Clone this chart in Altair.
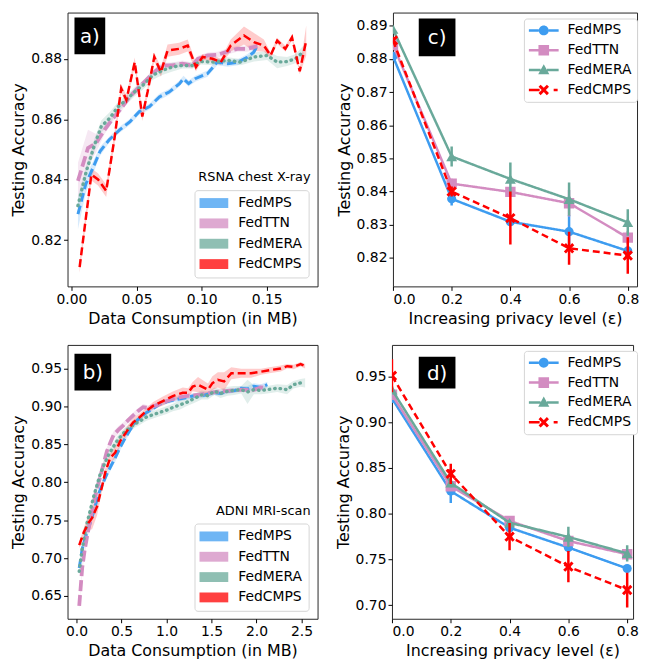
import altair as alt
import pandas as pd

SERIES = ["FedMPS", "FedTTN", "FedMERA", "FedCMPS"]
COLORS = ["#3d9cf0", "#d38cc1", "#69a99a", "#ff0000"]

# ---------------- panel a : RSNA chest X-ray ----------------
a_mps_x = [0.005, 0.011, 0.0165, 0.022, 0.029, 0.037, 0.045, 0.052, 0.060, 0.0675, 0.075, 0.083, 0.086, 0.090, 0.095, 0.1045, 0.112, 0.120, 0.128, 0.135, 0.140, 0.143]
a_mps_y = [0.8286, 0.8385, 0.8439, 0.8494, 0.8532, 0.8565, 0.8592, 0.8625, 0.8642, 0.8674, 0.869, 0.8718, 0.8734, 0.8718, 0.8734, 0.8751, 0.8789, 0.8784, 0.8789, 0.8805, 0.8822, 0.8845]
a_mps_e = [0.005, 0.003, 0.002, 0.0015, 0.001, 0.001, 0.001, 0.001, 0.001, 0.001, 0.001, 0.001, 0.001, 0.001, 0.001, 0.001, 0.001, 0.001, 0.001, 0.001, 0.001, 0.001]

a_ttn_x = [0.005, 0.0127, 0.019, 0.0254, 0.032, 0.0382, 0.0446, 0.051, 0.0573, 0.0636, 0.070, 0.0776, 0.0852, 0.0929, 0.097, 0.1045, 0.1122, 0.1198, 0.1274, 0.135, 0.1427]
a_ttn_y = [0.8396, 0.8505, 0.8521, 0.8565, 0.8603, 0.8636, 0.8674, 0.8702, 0.8729, 0.8756, 0.8778, 0.8778, 0.8784, 0.8778, 0.88, 0.8811, 0.8813, 0.8824, 0.8833, 0.8833, 0.8842]
a_ttn_e = [0.006, 0.006, 0.003, 0.0015, 0.001, 0.001, 0.001, 0.001, 0.001, 0.001, 0.001, 0.001, 0.001, 0.001, 0.001, 0.001, 0.001, 0.001, 0.001, 0.001, 0.001]

a_mera_x = [0.005, 0.0114, 0.0178, 0.0229, 0.0293, 0.0359, 0.0422, 0.0486, 0.055, 0.0626, 0.0702, 0.0776, 0.0852, 0.0929, 0.0995, 0.1096, 0.1198, 0.130, 0.1402, 0.1503, 0.158, 0.1656, 0.172, 0.1783]
a_mera_y = [0.8314, 0.8428, 0.8516, 0.8576, 0.8603, 0.8642, 0.8664, 0.8691, 0.8713, 0.8746, 0.8762, 0.8773, 0.8778, 0.8778, 0.8791, 0.8789, 0.8795, 0.8789, 0.8806, 0.8811, 0.8789, 0.8791, 0.88, 0.8824]
a_mera_e = [0.003, 0.002, 0.002, 0.002, 0.002, 0.0015, 0.0015, 0.0015, 0.0015, 0.0015, 0.0015, 0.0015, 0.001, 0.001, 0.001, 0.001, 0.001, 0.001, 0.0015, 0.0015, 0.002, 0.0015, 0.0015, 0.002]

a_cmps_x = [0.0063, 0.0153, 0.0204, 0.0267, 0.0331, 0.0382, 0.0422, 0.0486, 0.0544, 0.0585, 0.0636, 0.0687, 0.0738, 0.0827, 0.0893, 0.0956, 0.1007, 0.1084, 0.1147, 0.1223, 0.1325, 0.1402, 0.1478, 0.1529, 0.158, 0.1643, 0.1694, 0.1753, 0.1803]
a_cmps_y = [0.8111, 0.8417, 0.8401, 0.8363, 0.8538, 0.8702, 0.8664, 0.8789, 0.8609, 0.8691, 0.8806, 0.8756, 0.8827, 0.8833, 0.8844, 0.8773, 0.8806, 0.88, 0.8789, 0.8844, 0.8877, 0.8855, 0.8844, 0.8811, 0.886, 0.8833, 0.8871, 0.8759, 0.886]
a_cmps_e = [0.002, 0.002, 0.002, 0.002, 0.002, 0.0015, 0.0015, 0.0015, 0.0015, 0.0015, 0.0015, 0.0015, 0.002, 0.002, 0.002, 0.0015, 0.001, 0.001, 0.001, 0.002, 0.003, 0.003, 0.002, 0.001, 0.001, 0.001, 0.001, 0.001, 0.005]

# ---------------- panel b : ADNI MRI-scan ----------------
b_mps_x = [0.03, 0.063, 0.1, 0.154, 0.2, 0.246, 0.29, 0.338, 0.385, 0.43, 0.485, 0.54, 0.595, 0.65, 0.715, 0.78, 0.85, 0.924, 1.0, 1.108, 1.2, 1.29, 1.39, 1.46, 1.53, 1.6, 1.68, 1.76, 1.83, 1.9, 1.97, 2.05, 2.12]
b_mps_y = [0.687, 0.712, 0.728, 0.747, 0.765, 0.785, 0.798, 0.811, 0.822, 0.832, 0.846, 0.858, 0.869, 0.879, 0.886, 0.892, 0.897, 0.903, 0.906, 0.909, 0.911, 0.9136, 0.9136, 0.916, 0.918, 0.917, 0.92, 0.921, 0.924, 0.923, 0.9265, 0.925, 0.9286]
b_mps_e = [0.006, 0.006, 0.006, 0.006, 0.006, 0.006, 0.005, 0.005, 0.005, 0.005, 0.004, 0.004, 0.004, 0.004, 0.003, 0.003, 0.003, 0.003, 0.003, 0.003, 0.003, 0.003, 0.003, 0.003, 0.003, 0.003, 0.003, 0.003, 0.003, 0.004, 0.004, 0.004, 0.004]

b_ttn_x = [0.03, 0.063, 0.09, 0.118, 0.155, 0.19, 0.225, 0.264, 0.3, 0.338, 0.375, 0.411, 0.465, 0.52, 0.575, 0.63, 0.685, 0.74, 0.8, 0.88, 0.96, 1.05, 1.15, 1.25, 1.35, 1.45, 1.55, 1.65, 1.75, 1.85, 1.95, 2.05, 2.1]
b_ttn_y = [0.637, 0.687, 0.71, 0.729, 0.751, 0.772, 0.79, 0.807, 0.824, 0.841, 0.852, 0.862, 0.869, 0.875, 0.882, 0.888, 0.894, 0.899, 0.898, 0.901, 0.905, 0.909, 0.912, 0.914, 0.915, 0.917, 0.919, 0.92, 0.921, 0.922, 0.921, 0.925, 0.924]
b_ttn_e = [0.004, 0.005, 0.006, 0.006, 0.006, 0.006, 0.006, 0.005, 0.005, 0.005, 0.005, 0.005, 0.005, 0.004, 0.004, 0.004, 0.004, 0.004, 0.003, 0.003, 0.003, 0.003, 0.003, 0.003, 0.003, 0.003, 0.003, 0.003, 0.003, 0.003, 0.003, 0.004, 0.004]

b_mera_x = [0.03, 0.063, 0.09, 0.118, 0.155, 0.19, 0.227, 0.264, 0.31, 0.356, 0.4, 0.448, 0.495, 0.54, 0.595, 0.65, 0.71, 0.777, 0.85, 0.924, 1.0, 1.07, 1.15, 1.22, 1.3, 1.39, 1.46, 1.53, 1.6, 1.68, 1.75, 1.83, 1.9, 1.97, 2.05, 2.12, 2.23, 2.34, 2.41, 2.49, 2.54]
b_mera_y = [0.6825, 0.712, 0.73, 0.747, 0.764, 0.781, 0.796, 0.811, 0.824, 0.836, 0.845, 0.854, 0.861, 0.867, 0.872, 0.877, 0.881, 0.886, 0.889, 0.892, 0.895, 0.8986, 0.902, 0.905, 0.91, 0.915, 0.914, 0.92, 0.917, 0.92, 0.921, 0.922, 0.919, 0.922, 0.921, 0.922, 0.924, 0.922, 0.9286, 0.931, 0.931]
b_mera_e = [0.005, 0.005, 0.006, 0.006, 0.006, 0.006, 0.006, 0.006, 0.006, 0.006, 0.006, 0.006, 0.006, 0.005, 0.005, 0.005, 0.005, 0.005, 0.005, 0.005, 0.005, 0.005, 0.006, 0.005, 0.006, 0.006, 0.005, 0.005, 0.006, 0.006, 0.006, 0.005, 0.016, 0.006, 0.005, 0.005, 0.005, 0.006, 0.005, 0.005, 0.006]

b_cmps_x = [0.03, 0.081, 0.136, 0.173, 0.228, 0.283, 0.319, 0.374, 0.43, 0.484, 0.558, 0.63, 0.704, 0.777, 0.851, 0.96, 1.07, 1.18, 1.24, 1.29, 1.35, 1.46, 1.51, 1.57, 1.64, 1.72, 1.83, 1.94, 2.05, 2.16, 2.27, 2.34, 2.41, 2.49, 2.54]
b_cmps_y = [0.717, 0.734, 0.747, 0.753, 0.768, 0.794, 0.813, 0.832, 0.839, 0.854, 0.867, 0.879, 0.886, 0.894, 0.9008, 0.907, 0.9136, 0.918, 0.918, 0.926, 0.9286, 0.922, 0.9307, 0.935, 0.933, 0.9436, 0.9436, 0.9436, 0.9457, 0.948, 0.95, 0.953, 0.952, 0.9556, 0.953]
b_cmps_e = [0.004, 0.006, 0.01, 0.015, 0.012, 0.006, 0.005, 0.006, 0.008, 0.007, 0.006, 0.006, 0.005, 0.004, 0.005, 0.006, 0.006, 0.007, 0.006, 0.006, 0.01, 0.008, 0.009, 0.01, 0.012, 0.008, 0.006, 0.006, 0.004, 0.004, 0.004, 0.003, 0.003, 0.003, 0.003]

# ---------------- panels c, d : privacy level ----------------
EPS = [0.0, 0.2, 0.4, 0.6, 0.8]
c_mps = [0.8808, 0.8378, 0.8309, 0.8279, 0.8221]
c_ttn = [0.8843, 0.8424, 0.8399, 0.8365, 0.8261]
c_mera = [0.889, 0.8506, 0.8438, 0.8377, 0.8307]
c_cmps = [0.8856, 0.84, 0.832, 0.8229, 0.8207]
c_mps_e = [0.001, 0.002, 0.001, 0.005, 0.0012]
c_ttn_e = [0.001, 0.0015, 0.0015, 0.004, 0.002]
c_mera_e = [0.001, 0.003, 0.005, 0.005, 0.004]
c_cmps_e = [0.001, 0.0015, 0.008, 0.005, 0.0055]

d_mps = [0.926, 0.8246, 0.7846, 0.7629, 0.74]
d_ttn = [0.93, 0.83, 0.792, 0.77, 0.7556]
d_mera = [0.9355, 0.8337, 0.79, 0.7745, 0.7565]
d_cmps = [0.9507, 0.8435, 0.7748, 0.742, 0.7164]
d_mps_e = [0.002, 0.013, 0.003, 0.005, 0.004]
d_ttn_e = [0.003, 0.004, 0.004, 0.004, 0.004]
d_mera_e = [0.004, 0.005, 0.003, 0.011, 0.009]
d_cmps_e = [0.018, 0.011, 0.015, 0.017, 0.019]

FONT = "DejaVu Sans"


def make_df(xs, ys, es):
    frames = []
    for s, x, y, e in zip(SERIES, xs, ys, es):
        frames.append(pd.DataFrame({
            "series": s, "x": x, "y": y,
            "lo": [v - d for v, d in zip(y, e)],
            "hi": [v + d for v, d in zip(y, e)],
        }))
    return pd.concat(frames, ignore_index=True)


def color_enc(legend=None):
    if legend is None:
        return alt.Color("series:N", scale=alt.Scale(domain=SERIES, range=COLORS), legend=None)
    return alt.Color("series:N", scale=alt.Scale(domain=SERIES, range=COLORS), legend=legend)


def tag_layers(text, box):
    lab = pd.DataFrame({"t": [text]})
    x0, x1, y0, y1 = box
    rect = alt.Chart(lab).mark_rect(color="black").encode(
        x=alt.value(x0), x2=alt.value(x1), y=alt.value(y0), y2=alt.value(y1))
    txt = alt.Chart(lab).mark_text(color="white", font=FONT, fontSize=20,
                                   align="center", baseline="middle").encode(
        x=alt.value((x0 + x1) / 2), y=alt.value((y0 + y1) / 2 + 1), text="t:N")
    return [rect, txt]


CURVE_STYLE = {
    "FedMPS": dict(strokeDash=[9, 4], strokeWidth=3.0, strokeCap="butt"),
    "FedTTN": dict(strokeDash=[11, 4], strokeWidth=3.8, strokeCap="butt"),
    "FedMERA": dict(strokeDash=[0.5, 5], strokeWidth=3.4, strokeCap="round"),
    "FedCMPS": dict(strokeDash=[8, 4], strokeWidth=2.5, strokeCap="butt"),
}

PATCH = "M-1.14,-0.71H3V0.71H-1.14Z"


def curve_panel(df, xdom, ydom, xticks, yticks, xfmt, w, h, tag, tagbox, dsname, ds_y, leg_xy):
    xs = alt.Scale(domain=xdom, nice=False, zero=False)
    ys = alt.Scale(domain=ydom, nice=False, zero=False)
    xax = alt.Axis(values=xticks, format=xfmt, title="Data Consumption (in MB)")
    yax = alt.Axis(values=yticks, format=".2f", title="Testing Accuracy")
    legend = alt.Legend(
        orient="none", legendX=leg_xy[0], legendY=leg_xy[1], title=None,
        symbolType=PATCH, symbolSize=196, symbolStrokeWidth=0, symbolOpacity=0.75,
        labelFont=FONT, labelFontSize=14, labelColor="black", labelOffset=24,
        rowPadding=6.5, padding=6, fillColor="white", strokeColor="#d4d4d4",
        cornerRadius=3,
    )
    band = alt.Chart(df).mark_area(opacity=0.2, clip=True).encode(
        x=alt.X("x:Q", scale=xs, axis=xax),
        y=alt.Y("lo:Q", scale=ys, axis=yax),
        y2="hi:Q",
        color=color_enc(legend),
        detail="series:N",
    )
    layers = [band]
    for s in SERIES:
        st = CURVE_STYLE[s]
        layers.append(
            alt.Chart(df[df.series == s]).mark_line(clip=True, **st).encode(
                x=alt.X("x:Q", scale=xs, axis=xax),
                y=alt.Y("y:Q", scale=ys, axis=yax),
                color=color_enc(),
            ))
    ds = alt.Chart(pd.DataFrame({"t": [dsname]})).mark_text(
        font=FONT, fontSize=13, align="right", baseline="middle", color="black").encode(
        x=alt.value(w - 7), y=alt.value(ds_y), text="t:N")
    layers.append(ds)
    layers += tag_layers(tag, tagbox)
    return alt.layer(*layers).properties(width=w, height=h)


def seg(a, b):
    return f"M{a},-0.18H{b}V0.18H{a}Z"


CX = 1.143
LEG_PATHS = [
    seg(-1, 0.429) + " M0.429,0A0.714,0.714 0 1,0 1.857,0A0.714,0.714 0 1,0 0.429,0Z " + seg(1.857, 3.286),
    seg(-1, 0.379) + " M0.379,-0.764H1.907V0.764H0.379Z " + seg(1.907, 3.286),
    seg(-1, 0.686) + " M1.143,-0.85L1.943,0.6L0.343,0.6Z " + seg(1.6, 3.286),
]
_xp = [(-1, -0.6), (-0.6, -1), (0, -0.4), (0.6, -1), (1, -0.6), (0.4, 0), (1, 0.6), (0.6, 1), (0, 0.4), (-0.6, 1), (-1, 0.6), (-0.4, 0)]
_s = 0.75
X_LEG = "M" + "L".join(f"{CX + px * _s:.3f},{py * _s:.3f}" for px, py in _xp) + "Z"
LEG_PATHS.append(seg(-1, 0.55) + " " + X_LEG + " " + seg(2.57, 3.14))
X_MARK = "M" + "L".join(f"{px},{py}" for px, py in _xp) + "Z"

POINT_STYLE = {
    "FedMPS": dict(shape="circle", size=85),
    "FedTTN": dict(shape="square", size=110),
    "FedMERA": dict(shape="triangle-up", size=120),
    "FedCMPS": dict(shape=X_MARK, size=110),
}
LINE_DASH = {"FedMPS": [1, 0], "FedTTN": [1, 0], "FedMERA": [1, 0], "FedCMPS": [7, 4]}


def priv_panel(ys_list, es_list, xdom, ydom, yticks, w, h, tag, tagbox, leg_xy):
    df = make_df([EPS] * 4, ys_list, es_list)
    xs = alt.Scale(domain=xdom, nice=False, zero=False)
    ys = alt.Scale(domain=ydom, nice=False, zero=False)
    xax = alt.Axis(values=EPS, format=".1f", title="Increasing privacy level (ε)")
    yax = alt.Axis(values=yticks, format=".2f", title="Testing Accuracy")
    X = alt.X("x:Q", scale=xs, axis=xax)
    legend = alt.Legend(
        orient="none", legendX=leg_xy[0], legendY=leg_xy[1], title=None,
        symbolSize=196, symbolStrokeWidth=0, symbolOpacity=1,
        labelFont=FONT, labelFontSize=14, labelColor="black", labelOffset=25,
        rowPadding=6, padding=5, fillColor="white", strokeColor="#d4d4d4",
        cornerRadius=3,
    )
    # invisible layer that carries the legend (line + marker symbols); first so its legend wins
    layers = [alt.Chart(df).mark_point(filled=True, opacity=0).encode(
        x=X, y=alt.Y("y:Q", scale=ys, axis=yax),
        color=color_enc(legend),
        shape=alt.Shape("series:N", scale=alt.Scale(domain=SERIES, range=LEG_PATHS), legend=legend),
    )]
    for s in SERIES:
        sub = df[df.series == s]
        layers.append(alt.Chart(sub).mark_rule(strokeWidth=2.5, clip=True).encode(
            x=X, y=alt.Y("lo:Q", scale=ys, axis=yax), y2="hi:Q", color=color_enc()))
        layers.append(alt.Chart(sub).mark_line(strokeWidth=2.5, strokeDash=LINE_DASH[s], clip=True).encode(
            x=X, y=alt.Y("y:Q", scale=ys, axis=yax), color=color_enc()))
        layers.append(alt.Chart(sub).mark_point(filled=True, opacity=1, clip=True, **POINT_STYLE[s]).encode(
            x=X, y=alt.Y("y:Q", scale=ys, axis=yax), color=color_enc()))
    layers += tag_layers(tag, tagbox)
    return alt.layer(*layers).properties(width=w, height=h)


df_a = make_df([a_mps_x, a_ttn_x, a_mera_x, a_cmps_x],
               [a_mps_y, a_ttn_y, a_mera_y, a_cmps_y],
               [a_mps_e, a_ttn_e, a_mera_e, a_cmps_e])
df_b = make_df([b_mps_x, b_ttn_x, b_mera_x, b_cmps_x],
               [b_mps_y, b_ttn_y, b_mera_y, b_cmps_y],
               [b_mps_e, b_ttn_e, b_mera_e, b_cmps_e])

pa = curve_panel(df_a, [-0.003, 0.189], [0.8047, 0.8953], [0.0, 0.05, 0.10, 0.15], [0.82, 0.84, 0.86, 0.88],
                 ".2f", 252, 276, "a)", (7, 38, 5, 42), "RSNA chest X-ray", 166, (128, 179))
pb = curve_panel(df_b, [-0.1, 2.678], [0.62, 0.981], [0.0, 0.5, 1.0, 1.5, 2.0, 2.5],
                 [0.65, 0.70, 0.75, 0.80, 0.85, 0.90, 0.95],
                 ".1f", 252, 276, "b)", (7, 44, 9, 46), "ADNI MRI-scan", 167, (128, 180))
pc = priv_panel([c_mps, c_ttn, c_mera, c_cmps], [c_mps_e, c_ttn_e, c_mera_e, c_cmps_e],
                [0, 0.8315], [0.8114, 0.894], [0.82, 0.83, 0.84, 0.85, 0.86, 0.87, 0.88, 0.89],
                246, 276, "c)", (26, 63, 6, 44), (132, 6))
pd_ = priv_panel([d_mps, d_ttn, d_mera, d_cmps], [d_mps_e, d_ttn_e, d_mera_e, d_cmps_e],
                 [0, 0.82], [0.685, 0.9845], [0.70, 0.75, 0.80, 0.85, 0.90, 0.95],
                 243, 276, "d)", (27, 64, 12, 44), (133, 6))


def indep(c):
    return c.resolve_scale(color="independent", shape="independent").resolve_legend(
        color="independent", shape="independent")


top = indep(alt.hconcat(pa, pc, spacing=17))
bot = indep(alt.hconcat(pb, pd_, spacing=16))
chart = indep(alt.vconcat(top, bot, spacing=17)).properties(
    padding={"left": 2, "top": 1, "right": 0, "bottom": 0}
).configure(font=FONT).configure_view(
    stroke="#262626", strokeWidth=1
).configure_axis(
    labelFont=FONT, titleFont=FONT, labelFontSize=14, titleFontSize=16,
    titleFontWeight="normal", labelColor="black", titleColor="black",
    tickColor="black", tickSize=4, tickWidth=1, labelPadding=2, titlePadding=4,
    domain=False, grid=False,
)

chart.save("out.html", embed_options={"renderer": "svg", "actions": False})
